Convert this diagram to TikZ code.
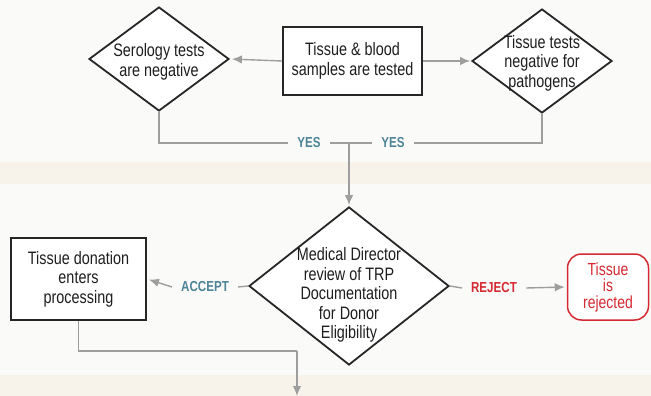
\documentclass[tikz,border=0pt]{standalone}
\usepackage{fontspec}
\setmainfont{Liberation Sans}[FakeStretch=0.8]
\usetikzlibrary{shapes.geometric,arrows.meta}
\definecolor{bgc}{HTML}{FAFAF8}
\definecolor{bandc}{HTML}{F7F2EA}
\definecolor{linec}{HTML}{9E9E9E}
\definecolor{yesc}{HTML}{4D8497}
\definecolor{rejc}{HTML}{D42A32}
\definecolor{txtc}{HTML}{1E1E1E}
\tikzset{
  maintext/.style={font=\fontsize{18}{19.5}\selectfont, text=txtc, align=center},
  boxnode/.style={maintext, draw=black!85, line width=2pt, fill=white, inner sep=0pt},
  dianode/.style={maintext, shape=diamond, draw=black!85, line width=1.8pt, fill=white, inner sep=-8pt},
  lbl/.style={font=\bfseries\fontsize{14.5}{16}\selectfont, inner xsep=9pt, inner ysep=2pt},
  conn/.style={draw=linec, line width=1.4pt},
  arr/.style={conn, -{Latex[length=10pt,width=8.5pt]}, color=linec}
}
\begin{document}
\begin{tikzpicture}[x=1pt,y=-1pt]
\useasboundingbox (0,0) rectangle (651,396);
\fill[bgc] (0,0) rectangle (651,396);
\fill[bandc] (0,162) rectangle (651,184);
\fill[bandc] (0,375) rectangle (651,396);

\node[boxnode, minimum width=139pt, minimum height=68pt] (test) at (352.5,61) {Tissue \& blood\\samples are tested};
\node[dianode, minimum width=140pt, minimum height=104pt] (sero) at (159,59) {};
\node[maintext] (serot) at (159,62) {Serology tests\\are negative};
\node[dianode, minimum width=140pt, minimum height=104pt] (path) at (542,61) {};
\node[maintext] (patht) at (542,63) {Tissue tests\\negative for\\pathogens};
\node[dianode, minimum width=200pt, minimum height=158pt] (med) at (349,286) {};
\node[maintext] (medt) at (349,295) {Medical Director\\review of TRP\\Documentation\\for Donor\\Eligibility};
\node[boxnode, minimum width=135pt, minimum height=82pt] (proc) at (78.5,279) {Tissue donation\\enters\\processing};
\node[maintext, font=\fontsize{17.5}{16.5}\selectfont, text=rejc, draw=rejc, line width=1.5pt, rounded corners=14pt, fill=white, minimum width=81pt, minimum height=66pt, inner sep=0pt] (rej) at (608,287) {Tissue\\is\\rejected};

\node[lbl, text=yesc] (yesL) at (309,143) {YES};
\node[lbl, text=yesc] (yesR) at (393,143) {YES};
\node[lbl, text=yesc] (acc) at (205,287) {ACCEPT};
\node[lbl, text=rejc] (rejl) at (494,288) {REJECT};

\coordinate (j) at (349,143);
\coordinate (bend) at (297,351);
\coordinate (bottom) at (297,396);

\draw[arr, shorten >=2pt] (test.west) -- (sero.east);
\draw[arr, shorten >=1pt] (test.east) -- (path.west);
\draw[conn] (sero.south) |- (yesL.west);
\draw[conn] (yesL.east) -- (yesR.west);
\draw[conn] (yesR.east) -| (path.south);
\draw[arr, shorten >=1pt] (j) -- (med.north);
\draw[conn] (med.west) -- (acc.east);
\draw[arr, shorten >=2pt] (acc.west) -- (proc.east);
\draw[conn] (med.east) -- (rejl.west);
\draw[arr, shorten >=2pt] (rejl.east) -- (rej.west);
\draw[conn] (proc.south) |- (bend);
\draw[arr] (bend) -- (bottom);
\end{tikzpicture}
\end{document}
